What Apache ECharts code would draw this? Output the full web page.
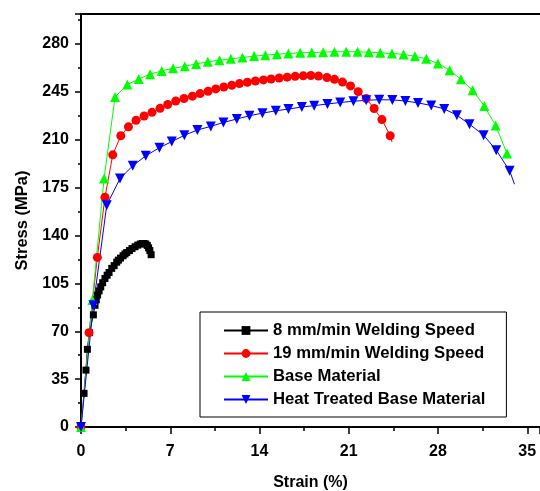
<!DOCTYPE html>
<html>
<head>
<meta charset="utf-8">
<script src="https://cdn.jsdelivr.net/npm/echarts@6/dist/echarts.min.js"></script>
<style>
  html, body { margin: 0; padding: 0; background: #fff; }
  #chart { width: 540px; height: 491px; }
</style>
</head>
<body>
<div id="chart"></div>
<script>
// 数据：应变 (%) 与应力 (MPa)
var xTicks = [0, 7, 14, 21, 28, 35]
var yTicks = [0, 35, 70, 105, 140, 175, 210, 245, 280]

var names = ['8 mm/min Welding Speed', '19 mm/min Welding Speed', 'Base Material', 'Heat Treated Base Material']

var strain8 = [0.24, 0.39, 0.50, 0.66, 0.97, 1.10, 1.20, 1.30, 1.42, 1.55, 1.70, 1.88, 2.05, 2.20, 2.41, 2.60, 2.80, 2.93, 3.10, 3.30, 3.45, 3.59, 3.80, 4.00, 4.24, 4.45, 4.65, 4.81, 4.95, 5.08, 5.20, 5.30, 5.40, 5.50]
var stress8 = [24.6, 41.6, 56.8, 69, 82, 89, 93, 96.5, 99.5, 102.5, 105.5, 108.6, 111, 113, 116, 118, 120.5, 122, 123.5, 125.2, 126.5, 127.6, 129, 130.5, 131.8, 133, 133.8, 134.2, 134.2, 133.8, 132.8, 131, 129, 126]

var strain19 = [0, 0.63, 1.28, 1.88, 2.49, 3.12, 3.72, 4.32, 4.95, 5.57, 6.20, 6.80, 7.43, 8.08, 8.74, 9.34, 9.97, 10.57, 11.20, 11.83, 12.43, 13.05, 13.68, 14.31, 14.91, 15.54, 16.17, 16.80, 17.43, 18.03, 18.63, 19.29, 19.88, 20.51, 21.14, 21.74, 22.37, 22.99, 23.60, 24.25, 24.39]
var stress19 = [0, 69, 124, 168, 199, 213, 219.5, 224.3, 227.4, 230.1, 233, 235.8, 238.4, 240.2, 241.9, 243.8, 245.5, 247.2, 248.6, 249.9, 251.1, 252.1, 253, 253.8, 254.5, 255.2, 255.8, 256.4, 256.8, 257, 256.6, 255.6, 254.2, 252.2, 249.4, 245.2, 240.2, 232.9, 224.8, 213, 208.5]

var strainBase = [0, 0.89, 1.81, 2.67, 3.63, 4.53, 5.42, 6.33, 7.22, 8.14, 9.03, 9.94, 10.86, 11.75, 12.66, 13.58, 14.46, 15.37, 16.27, 17.19, 18.10, 18.99, 19.88, 20.80, 21.69, 22.58, 23.47, 24.39, 25.30, 26.19, 27.08, 28.00, 28.91, 29.80, 30.71, 31.63, 32.52, 33.41, 33.67]
var stressBase = [0, 92.8, 181.7, 241.3, 250.4, 254.5, 258, 260.4, 262.3, 263.8, 265.5, 267, 268.2, 269.2, 270.2, 271.2, 271.9, 272.6, 273.1, 273.6, 273.9, 274.1, 274.4, 274.4, 274.4, 274, 273.7, 273.1, 272.4, 271.1, 269.2, 265.8, 260.9, 254.3, 246.2, 234.8, 220.4, 200, 197]

var strainHT = [0, 0.97, 2.02, 3.06, 4.06, 5.08, 6.15, 7.12, 8.11, 9.13, 10.18, 11.17, 12.22, 13.21, 14.23, 15.28, 16.27, 17.32, 18.29, 19.33, 20.33, 21.37, 22.37, 23.39, 24.42, 25.44, 26.43, 27.47, 28.49, 29.48, 30.47, 31.58, 32.57, 33.62, 34.0]
var stressHT = [0, 89, 162.2, 181.7, 191, 198.3, 204.2, 208.7, 213.3, 217.2, 219.8, 222.7, 225.2, 227.6, 229.5, 231.2, 232.5, 234, 235, 236.2, 237.3, 238.2, 238.9, 239.3, 239.2, 238.4, 237, 235.1, 232.6, 228, 221.4, 213.4, 202.4, 187.3, 177.5]

var font = 'Liberation Sans, Arial, sans-serif'

// 拼成点；tail 为 true 时最后一点不画符号（曲线末端）
function pts (xs, ys, tail) {
  return xs.map(function (x, i) {
    var p = { value: [x, ys[i]] }
    if (tail && i === xs.length - 1) p.symbol = 'none'
    return p
  })
}

function makeSeries (name, color, symbol, size, data, extra) {
  var s = {
    name: name,
    type: 'line',
    data: data,
    symbol: symbol,
    symbolSize: size,
    showAllSymbol: true,
    animation: false,
    itemStyle: { color: color },
    lineStyle: { color: color, width: 1 }
  }
  return Object.assign(s, extra || {})
}

var chart = echarts.init(document.getElementById('chart'))
chart.setOption({
  animation: false,
  grid: { left: 81, right: 0, top: 14, bottom: 64, containLabel: false, outerBoundsMode: 'none' },
  legend: {
    orient: 'vertical',
    left: 200,
    top: 312,
    padding: [10, 21, 9, 23],
    itemGap: 6,
    itemWidth: 44,
    itemHeight: 11,
    borderColor: '#000',
    borderWidth: 1,
    data: names,
    textStyle: { fontFamily: font, fontWeight: 'bold', fontSize: 16.7, color: '#000' }
  },
  xAxis: [
    {
      type: 'value',
      min: 0,
      max: 36,
      interval: 7,
      name: 'Strain (%)',
      nameLocation: 'middle',
      nameGap: 48,
      nameTextStyle: { fontFamily: font, fontWeight: 'bold', fontSize: 16, color: '#000' },
      axisLine: { lineStyle: { color: '#000', width: 2 } },
      axisTick: { length: 7, lineStyle: { color: '#000', width: 1.5 } },
      minorTick: { show: true, splitNumber: 2, length: 4, lineStyle: { color: '#000', width: 1.5 } },
      splitLine: { show: false },
      axisLabel: {
        margin: 17,
        fontFamily: font,
        fontWeight: 'bold',
        fontSize: 16,
        color: '#000',
        formatter: function (v) { return xTicks.indexOf(v) >= 0 ? String(v) : '' }
      }
    },
    {
      type: 'value',
      position: 'top',
      min: 0,
      max: 36,
      axisLine: { show: true, onZero: false, lineStyle: { color: '#000', width: 2 } },
      axisTick: { show: false },
      axisLabel: { show: false },
      splitLine: { show: false }
    }
  ],
  yAxis: {
    type: 'value',
    min: 0,
    max: 302,
    interval: 35,
    name: 'Stress (MPa)',
    nameLocation: 'middle',
    nameGap: 39,
    nameTextStyle: { fontFamily: font, fontWeight: 'bold', fontSize: 16.5, color: '#000' },
    axisLine: { show: true, lineStyle: { color: '#000', width: 2 } },
    axisTick: { length: 6, lineStyle: { color: '#000', width: 1.5 } },
    minorTick: { show: true, splitNumber: 2, length: 3, lineStyle: { color: '#000', width: 1.5 } },
    splitLine: { show: false },
    axisLabel: {
      margin: 12,
      fontFamily: font,
      fontWeight: 'bold',
      fontSize: 16,
      color: '#000',
      formatter: function (v) { return yTicks.indexOf(v) >= 0 ? String(v) : '' }
    }
  },
  series: [
    makeSeries(names[0], '#000000', 'rect', 7, pts(strain8, stress8, false)),
    makeSeries(names[1], '#ff0000', 'circle', 9, pts(strain19, stress19, true)),
    makeSeries(names[2], '#00ff00', 'triangle', 10, pts(strainBase, stressBase, true)),
    makeSeries(names[3], '#0000ff', 'triangle', 10, pts(strainHT, stressHT, true), { symbolRotate: 180 })
  ]
})
</script>
</body>
</html>
